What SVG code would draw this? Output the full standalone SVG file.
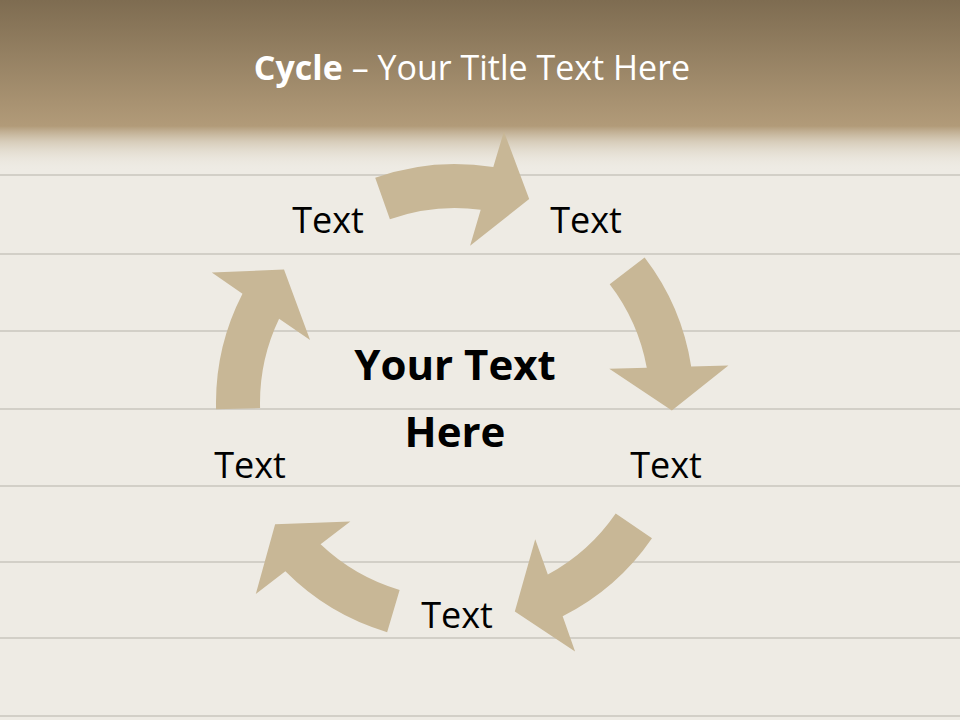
<svg xmlns="http://www.w3.org/2000/svg" width="960" height="720" viewBox="0 0 960 720">
  <defs>
    <linearGradient id="band" x1="0" y1="0" x2="0" y2="1">
      <stop offset="0" stop-color="#7e6c51"/>
      <stop offset="1" stop-color="#b29b79"/>
    </linearGradient>
    <linearGradient id="fade" x1="0" y1="0" x2="0" y2="1">
      <stop offset="0" stop-color="#b29b79" stop-opacity="1"/>
      <stop offset="0.35" stop-color="#cfc2ab" stop-opacity="0.75"/>
      <stop offset="1" stop-color="#ece8e0" stop-opacity="0"/>
    </linearGradient>
    <path id="arw" d="M-79.8,-225.3 A239,239 0 0 1 38.3,-235.9 L48.9,-271.6 L74.2,-203.9 L15.1,-157.3 L25.7,-193.3 A195,195 0 0 0 -65.1,-183.8 Z"/>
  </defs>
  <style>
    .plank { stroke: #d2cfc7; stroke-width: 2; }
    .arrow { fill: #c8b796; }
    .lbl { font-family: "Open Sans", "Liberation Sans", sans-serif; font-size: 36px; fill: #000; text-anchor: middle; }
    .ctr { font-family: "Open Sans", "Liberation Sans", sans-serif; font-size: 42px; font-weight: bold; fill: #000; text-anchor: middle; }
    .title { font-family: "Open Sans", "Liberation Sans", sans-serif; font-size: 34px; fill: #ffffff; text-anchor: middle; }
  </style>

  <g id="background">
    <rect x="0" y="0" width="960" height="720" fill="#eeebe4"/>
    <line class="plank" x1="0" y1="175" x2="960" y2="175"/>
    <line class="plank" x1="0" y1="254" x2="960" y2="254"/>
    <line class="plank" x1="0" y1="331" x2="960" y2="331"/>
    <line class="plank" x1="0" y1="409" x2="960" y2="409"/>
    <line class="plank" x1="0" y1="486" x2="960" y2="486"/>
    <line class="plank" x1="0" y1="562" x2="960" y2="562"/>
    <line class="plank" x1="0" y1="638" x2="960" y2="638"/>
    <line class="plank" x1="0" y1="716" x2="960" y2="716"/>
    <rect x="0" y="0" width="960" height="127" fill="url(#band)"/>
    <rect x="0" y="126" width="960" height="44" fill="url(#fade)"/>
  </g>

  <g id="title">
    <text class="title" x="472" y="80"><tspan font-weight="bold">Cycle</tspan> – Your Title Text Here</text>
  </g>

  <g id="connectors">
    <use href="#arw" class="arrow" transform="translate(455,403) rotate(0)"/>
    <use href="#arw" class="arrow" transform="translate(455,403) rotate(72)"/>
    <use href="#arw" class="arrow" transform="translate(455,403) rotate(144)"/>
    <use href="#arw" class="arrow" transform="translate(455,403) rotate(216)"/>
    <use href="#arw" class="arrow" transform="translate(455,403) rotate(288)"/>
  </g>

  <g id="center">
    <text class="ctr" x="455" y="380">Your Text</text>
    <text class="ctr" x="455" y="447">Here</text>
  </g>
  <g id="node1"><text class="lbl" x="328" y="233">Text</text></g>
  <g id="node2"><text class="lbl" x="586" y="233">Text</text></g>
  <g id="node3"><text class="lbl" x="666" y="478">Text</text></g>
  <g id="node4"><text class="lbl" x="457" y="628">Text</text></g>
  <g id="node5"><text class="lbl" x="250" y="478">Text</text></g>
</svg>
